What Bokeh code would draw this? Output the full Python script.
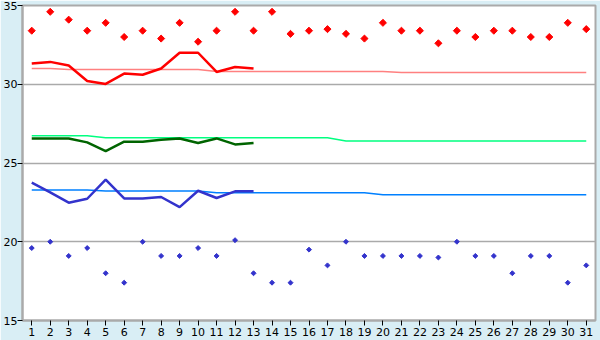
from bokeh.plotting import figure
from bokeh.models import FixedTicker, Range1d
from bokeh.embed import file_html
from bokeh.resources import INLINE

days = list(range(1, 32))

max_record = [33.4, 34.6, 34.1, 33.4, 33.9, 33.0, 33.4, 32.9, 33.9, 32.7,
              33.4, 34.6, 33.4, 34.6, 33.2, 33.4, 33.5, 33.2, 32.9, 33.9,
              33.4, 33.4, 32.6, 33.4, 33.0, 33.4, 33.4, 33.0, 33.0, 33.9, 33.5]
min_record = [19.6, 20.0, 19.1, 19.6, 18.0, 17.4, 20.0, 19.1, 19.1, 19.6,
              19.1, 20.1, 18.0, 17.4, 17.4, 19.5, 18.5, 20.0, 19.1, 19.1,
              19.1, 19.1, 19.0, 20.0, 19.1, 19.1, 18.0, 19.1, 19.1, 17.4, 18.5]

obs_days = list(range(1, 14))
obs_max = [31.32, 31.42, 31.19, 30.21, 30.02, 30.68, 30.6, 31.0, 32.0, 32.0, 30.78, 31.1, 31.0]
obs_mean = [26.56, 26.56, 26.56, 26.31, 25.76, 26.35, 26.35, 26.48, 26.56, 26.27, 26.56, 26.18, 26.27]
obs_min = [23.75, 23.13, 22.48, 22.73, 23.94, 22.75, 22.75, 22.84, 22.2, 23.24, 22.78, 23.2, 23.2]

normal_max = [31.0] * 2 + [30.94] * 8 + [30.81] * 10 + [30.75] * 11
normal_mean = [26.73] * 4 + [26.6] * 13 + [26.4] * 14
normal_min = [23.29] * 4 + [23.22] * 6 + [23.11] * 9 + [22.99] * 12

y_ticks = [15, 20, 25, 30, 35]

p = figure(width=600, height=340, output_backend="svg", toolbar_location=None,
           x_range=Range1d(0.5, 31.5), y_range=Range1d(15, 35))
p.min_border_left = 0
p.min_border_right = 5
p.min_border_top = 5
p.min_border_bottom = 20
p.border_fill_color = "#d9eef5"
p.background_fill_color = "white"
p.outline_line_color = "#aaaaaa"
p.outline_line_width = 2

p.xgrid.visible = False
p.ygrid.ticker = FixedTicker(ticks=y_ticks)
p.ygrid.grid_line_color = "#aaaaaa"
p.ygrid.grid_line_width = 1.5

for ax in (p.xaxis[0], p.yaxis[0]):
    ax.axis_line_color = "#aaaaaa"
    ax.axis_line_width = 2
    ax.major_tick_line_color = "black"
    ax.major_tick_in = 0
    ax.major_tick_out = 5
    ax.minor_tick_line_color = None
    ax.major_label_text_font = "DejaVu Sans"
    ax.major_label_text_font_size = "11px"
    ax.major_label_text_color = "black"
p.xaxis.ticker = FixedTicker(ticks=days)
p.yaxis.ticker = FixedTicker(ticks=y_ticks)
p.xaxis.major_label_standoff = 2
p.yaxis.major_label_standoff = 0

# normals
p.line(days, normal_max, line_color="#ff8080", line_width=1.5)
p.line(days, normal_mean, line_color="#00ff80", line_width=1.5)
p.line(days, normal_min, line_color="#0080ff", line_width=1.5)

# observed
p.line(obs_days, obs_max, line_color="#ff0000", line_width=2.5)
p.line(obs_days, obs_mean, line_color="#006400", line_width=2.5)
p.line(obs_days, obs_min, line_color="#3333cc", line_width=2.5)

# records
p.scatter(days, max_record, marker="square", angle=0.785398, size=5, color="#ff0000")
p.scatter(days, min_record, marker="square", angle=0.785398, size=3.5, color="#3333cc")

open("out.html", "w").write(file_html(p, INLINE))
